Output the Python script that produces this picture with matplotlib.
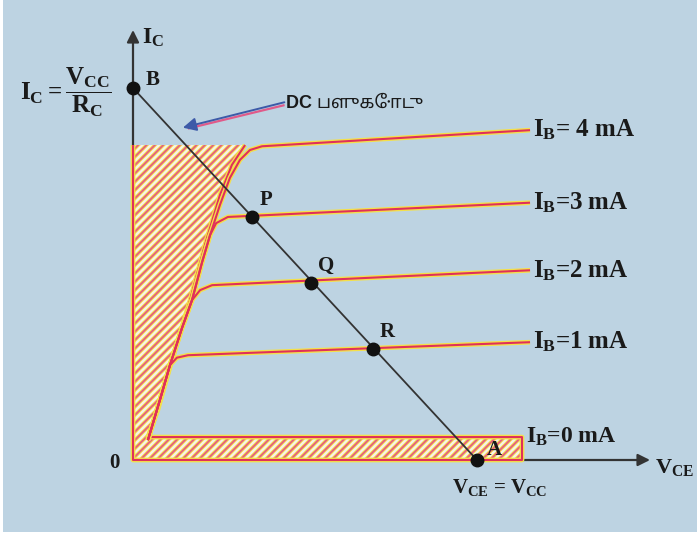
import numpy as np
import matplotlib
matplotlib.use('Agg')
import matplotlib.pyplot as plt
from matplotlib.patches import Polygon, Rectangle

plt.rcParams['mathtext.fontset'] = 'custom'
plt.rcParams['mathtext.rm'] = 'Liberation Serif:bold'
plt.rcParams['mathtext.it'] = 'Liberation Serif:bold'
plt.rcParams['mathtext.bf'] = 'Liberation Serif:bold'

# ---- data (V_CE in volts, I_C in mA) ----
vcc = 12.0
ic_sat = 6.0

ib_labels = ['$I_B$= 4 mA', '$I_B$=3 mA', '$I_B$=2 mA', '$I_B$=1 mA']
ib1_v = [0.52, 0.94, 1.29, 1.53, 1.92, 13.85]
ib1_i = [0.32, 0.97, 1.53, 1.65, 1.69, 1.90]
ib2_v = [0.52, 0.94, 1.29, 1.71, 2.06, 2.34, 2.76, 13.85]
ib2_i = [0.32, 0.97, 1.53, 2.13, 2.58, 2.74, 2.82, 3.06]
ib3_v = [0.52, 0.94, 1.29, 1.71, 2.06, 2.41, 2.69, 2.90, 3.31, 13.85]
ib3_i = [0.32, 0.97, 1.53, 2.13, 2.58, 3.19, 3.63, 3.82, 3.92, 4.15]
ib4_v = [0.52, 0.94, 1.29, 1.71, 2.06, 2.41, 2.69, 3.03, 3.38, 3.73, 4.08, 4.50, 13.85]
ib4_i = [0.32, 0.97, 1.53, 2.13, 2.58, 3.19, 3.63, 4.11, 4.55, 4.84, 5.00, 5.06, 5.32]
ib0_level = 0.37
ib0_end = 13.57

# saturation region boundary (left edge of hatched area)
sat_v = [3.91, 3.45, 3.03, 2.51, 1.99, 1.36, 0.87, 0.52]
sat_i = [5.08, 4.76, 4.27, 3.47, 2.58, 1.61, 0.81, 0.37]

# operating points on the load line
pt_names = ['P', 'Q', 'R']
pt_v = [4.15, 6.21, 8.37]
pt_i = [3.92, 2.85, 1.79]

red = '#e0305a'
yel = '#f4e04a'
dark = '#333333'

fig = plt.figure(figsize=(7, 5.38), dpi=100)
fig.patch.set_facecolor('white')
fig.patches.append(Rectangle((0.004, 0.012), 0.992, 0.988, transform=fig.transFigure,
                             facecolor='#bdd3e2', edgecolor='none', zorder=-10))
ax = fig.add_axes([0, 0, 1, 1])
ax.set_facecolor('none')
sx = 344 / vcc
sy = 372 / ic_sat
ax.set_xlim(-133 / sx, 567 / sx)
ax.set_ylim(-78 / sy, 460 / sy)
ax.axis('off')

# hatched saturation + cut-off region
poly_pts = [(0, sat_i[0])] + list(zip(sat_v, sat_i)) + [(ib0_end, ib0_level), (ib0_end, 0), (0, 0)]
base = Polygon(poly_pts, closed=True, facecolor='#f7f3ea', edgecolor=yel, hatch='////', lw=0, zorder=1)
top = Polygon(poly_pts, closed=True, facecolor='none', edgecolor='#e4607e', hatch='////', lw=0, zorder=2)
try:
    base.set_hatch_linewidth(2.6)
    top.set_hatch_linewidth(1.3)
except AttributeError:
    plt.rcParams['hatch.linewidth'] = 1.6
ax.add_patch(base)
ax.add_patch(top)

# axes with arrows
ax.annotate('', xy=(0, 430 / sy), xytext=(0, 0),
            arrowprops=dict(arrowstyle='-|>', color=dark, lw=1.6, mutation_scale=18, shrinkA=0, shrinkB=0),
            zorder=3)
ax.annotate('', xy=(517 / sx, 0), xytext=(0, 0),
            arrowprops=dict(arrowstyle='-|>', color=dark, lw=1.6, mutation_scale=18, shrinkA=0, shrinkB=0),
            zorder=3)

def duo(x, y, z=4):
    ax.plot(x, y, color=yel, lw=3.4, solid_joinstyle='round', solid_capstyle='butt', zorder=z)
    ax.plot(x, y, color=red, lw=1.5, solid_joinstyle='round', solid_capstyle='butt', zorder=z + 0.1)

# outline of hatched region
duo([0, 0, ib0_end, ib0_end] + [0.52] + sat_v[::-1],
    [sat_i[0], 0, 0, ib0_level] + [ib0_level] + sat_i[::-1])

# characteristic curves
for v, i in [(ib1_v, ib1_i), (ib2_v, ib2_i), (ib3_v, ib3_i), (ib4_v, ib4_i)]:
    duo(v, i, 5)

# load line
ax.plot([0, vcc], [ic_sat, 0], color=dark, lw=1.3, zorder=6)
ax.plot([0] + pt_v + [vcc], [ic_sat] + pt_i + [0], 'o', color='#111111', ms=9, zorder=7)

# labels
serif = dict(family='Liberation Serif', weight='bold', color='#1a1a1a')
ends = [ib4_i[-1], ib3_i[-1], ib2_i[-1], ib1_i[-1]]
for lab, y in zip(ib_labels, ends):
    ax.text(13.95, y, lab, fontsize=18, va='center', ha='left', **serif)
ax.text(13.7, ib0_level, '$I_B$=0 mA', fontsize=17, va='center', ha='left', **serif)

for n, v, i in zip(pt_names, pt_v, pt_i):
    ax.text(v + 0.25, i + 0.28, n, fontsize=15, ha='left', va='center', **serif)
ax.text(0.45, ic_sat + 0.13, 'B', fontsize=15, ha='left', va='center', **serif)
ax.text(vcc + 0.35, 0.16, 'A', fontsize=15, ha='left', va='center', **serif)
ax.text(-0.45, -0.05, '0', fontsize=15, ha='right', va='center', **serif)
ax.text(0.3, 6.81, '$I_C$', fontsize=17, ha='left', va='center', **serif)
ax.text(18.2, -0.12, '$V_{CE}$', fontsize=16, ha='left', va='center', **serif)
ax.text(12.8, -0.45, '$V_{CE}$ = $V_{CC}$', fontsize=15, ha='center', va='center', **serif)
ax.text(-3.95, 5.93, r'$I_C = \dfrac{V_{CC}}{R_C}$', fontsize=18, ha='left', va='center', **serif)

# DC load line pointer
ax.plot([5.25, 1.95], [5.72, 5.35], color='#e05a8a', lw=1.6, zorder=8)
ax.annotate('', xy=(1.74, 5.36), xytext=(5.28, 5.77),
            arrowprops=dict(arrowstyle='-|>', color='#3d5aa8', lw=1.4, mutation_scale=20, shrinkA=0, shrinkB=0),
            zorder=9)
ax.text(5.32, 5.76, 'DC பளுகோடு', fontsize=13, ha='left', va='center', weight='bold',
        family=['Liberation Sans', 'Noto Sans Tamil', 'DejaVu Sans'], color='#1a1a1a')

fig.savefig('out.png', dpi=100)
